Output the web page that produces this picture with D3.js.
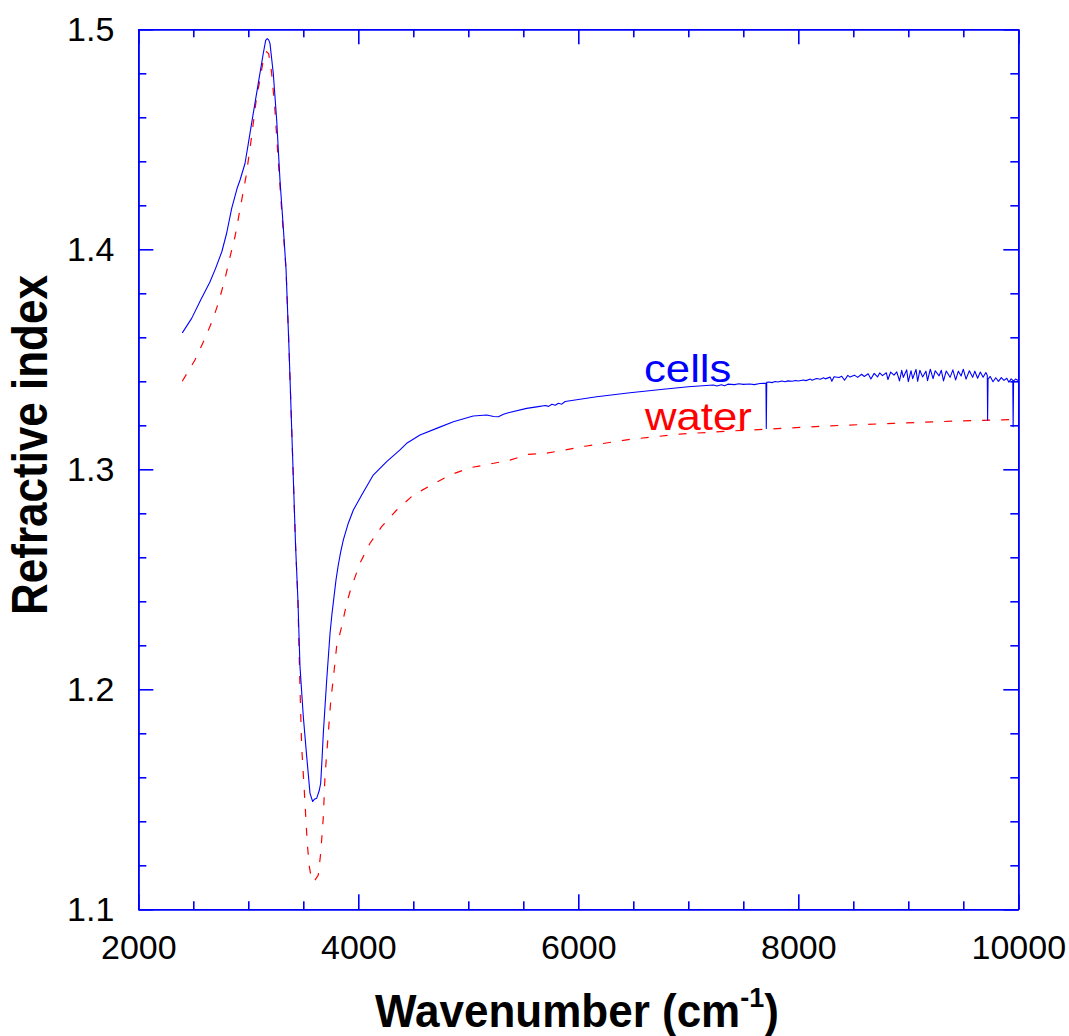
<!DOCTYPE html>
<html>
<head>
<meta charset="utf-8">
<script src="https://cdn.jsdelivr.net/npm/d3@7"></script>
<style>
  html, body { margin: 0; padding: 0; background: #fff; }
  svg { display: block; }
  text { font-family: "Liberation Sans", Arial, Helvetica, sans-serif; }
</style>
</head>
<body>
<svg id="chart" width="1069" height="1036"></svg>
<script>
// ---- Data ----
const xMajorTicks = [2000, 4000, 6000, 8000, 10000];
const xMinorTicks = [2500, 3000, 3500, 4500, 5000, 5500, 6500, 7000, 7500, 8500, 9000, 9500];
const yMajorTicks = [1.1, 1.2, 1.3, 1.4, 1.5];
const yTickLabels = ["1.1", "1.2", "1.3", "1.4", "1.5"];
const yMinorTicks = [1.12, 1.14, 1.16, 1.18, 1.22, 1.24, 1.26, 1.28, 1.32, 1.34, 1.36, 1.38, 1.42, 1.44, 1.46, 1.48];

const seriesNames = ["cells", "water"];

// cells: [wavenumber, refractive index]
const cells = [
  [2400,1.3620],[2485,1.3686],[2567,1.3770],[2650,1.3850],[2700,1.3910],[2760,1.3990],[2803,1.4073],
  [2849,1.4186],[2900,1.4280],[2925,1.4315],[2970,1.4390],[3000,1.4480],[3045,1.4618],[3091,1.4755],
  [3136,1.4890],[3158,1.4950],[3172,1.4958],[3185,1.4952],[3197,1.4936],[3227,1.4800],[3258,1.4588],
  [3288,1.4315],[3318,1.4100],[3343,1.3910],[3370,1.3550],[3400,1.3100],[3430,1.2650],[3451,1.2407],
  [3470,1.2103],[3500,1.1876],[3531,1.1694],[3561,1.1527],[3585,1.1490],[3600,1.1500],[3622,1.1505],
  [3645,1.1540],[3658,1.1573],[3670,1.1680],[3682,1.1800],[3712,1.2037],[3743,1.2255],[3760,1.2340],
  [3779,1.2420],[3798,1.2500],[3818,1.2565],[3840,1.2625],[3864,1.2679],[3909,1.2755],[3955,1.2815],
  [4031,1.2883],[4136,1.2974],[4258,1.3035],[4379,1.3088],[4440,1.3118],[4561,1.3156],[4712,1.3186],
  [4864,1.3216],[5045,1.3242],[5167,1.3247],[5230,1.3240],[5273,1.3239],[5320,1.3250],[5364,1.3257],
  [5531,1.3277],[5636,1.3285],[5700,1.3290],[5730,1.3286],[5760,1.3296],[5790,1.3291],[5820,1.3300],
  [5850,1.3296],[5880,1.3308],[6167,1.3330],[6470,1.3348],[6773,1.3364],[7000,1.3375],[7227,1.3383],
  [7260,1.3379],[7300,1.3384],[7330,1.3380],[7360,1.3387],[7420,1.3385],[7460,1.3389],[7500,1.3386],
  [7560,1.3388],[7600,1.3385],[7650,1.3390],[7706,1.3391],[7709,1.3186],[7713,1.3395],[7735,1.3397],
  [7760,1.3394],[7790,1.3399],[7815,1.3397],[7850,1.3401],[7880,1.3398],[7905,1.3402],[7945,1.3400],
  [7975,1.3404],[8000,1.3401],[8045,1.3406],[8070,1.3403],[8110,1.3410],[8125,1.3405],[8165,1.3413],
  [8200,1.3409],[8230,1.3416],[8245,1.3411],[8290,1.3419],[8305,1.3400],[8325,1.3421],[8370,1.3417],
  [8395,1.3423],[8420,1.3405],[8450,1.3427],[8470,1.3419],[8510,1.3428],[8540,1.3418],[8575,1.3432],
  [8600,1.3422],[8635,1.3434],[8660,1.3410],[8690,1.3436],[8720,1.3420],[8740,1.3438],[8765,1.3426],
  [8800,1.3439],[8815,1.3408],[8840,1.3442],[8870,1.3428],[8895,1.3443],[8920,1.3402],[8940,1.3450],
  [8955,1.3418],[8985,1.3452],[9000,1.3398],[9025,1.3448],[9040,1.3412],[9070,1.3454],[9085,1.3400],
  [9105,1.3450],[9130,1.3420],[9160,1.3446],[9175,1.3403],[9200,1.3455],[9225,1.3412],[9245,1.3448],
  [9280,1.3425],[9300,1.3450],[9320,1.3402],[9345,1.3447],[9380,1.3418],[9405,1.3452],[9430,1.3406],
  [9455,1.3446],[9480,1.3424],[9500,1.3455],[9525,1.3410],[9555,1.3448],[9585,1.3418],[9605,1.3446],
  [9630,1.3414],[9655,1.3442],[9680,1.3418],[9705,1.3440],[9718,1.3428],[9721,1.3224],[9725,1.3410],
  [9745,1.3422],[9770,1.3398],[9795,1.3416],[9820,1.3400],[9845,1.3417],[9870,1.3404],[9895,1.3414],
  [9915,1.3396],[9935,1.3411],[9950,1.3404],[9953,1.3194],[9957,1.3402],[9975,1.3410],[10000,1.3404]
];

// water: [wavenumber, refractive index]
const water = [
  [2400,1.3400],[2515,1.3497],[2606,1.3595],[2682,1.3686],[2736,1.3770],[2790,1.3870],[2834,1.3966],
  [2879,1.4057],[2940,1.4224],[2979,1.4330],[3030,1.4512],[3076,1.4694],[3106,1.4770],[3136,1.4860],
  [3165,1.4898],[3185,1.4890],[3210,1.4810],[3240,1.4650],[3270,1.4420],[3300,1.4200],[3343,1.3910],
  [3370,1.3550],[3400,1.3100],[3430,1.2650],[3451,1.2407],[3457,1.2270],[3470,1.2005],[3485,1.1740],
  [3509,1.1540],[3536,1.1300],[3555,1.1194],[3575,1.1135],[3597,1.1126],[3636,1.1156],[3658,1.1254],
  [3682,1.1420],[3697,1.1603],[3727,1.1800],[3750,1.1950],[3773,1.2050],[3803,1.2194],[3849,1.2285],
  [3894,1.2390],[3931,1.2455],[4015,1.2573],[4106,1.2664],[4212,1.2739],[4349,1.2815],[4500,1.2883],
  [4667,1.2929],[4834,1.2974],[5015,1.3007],[5197,1.3024],[5379,1.3042],[5545,1.3068],[5712,1.3073],
  [6076,1.3106],[6470,1.3136],[6924,1.3160],[7379,1.3174],[7712,1.3182],[8258,1.3197],[8864,1.3209],
  [9470,1.3220],[10000,1.3227]
];

// ---- Layout ----
const svg = d3.select("#chart");
const L = 138.3, R = 1018.3, T = 29.3, B = 909.3;
const x = d3.scaleLinear().domain([2000, 10000]).range([L, R]);
const y = d3.scaleLinear().domain([1.1, 1.5]).range([B, T]);
const axisColor = "#0000ff";
const tickFont = 34;

function styleAxis(g) {
  g.selectAll("path.domain").attr("stroke", axisColor).attr("stroke-width", 1.6);
  g.selectAll(".tick line").attr("stroke", axisColor).attr("stroke-width", 1.6);
  g.selectAll(".tick text")
    .attr("fill", "#000")
    .style("font-family", '"Liberation Sans", Arial, Helvetica, sans-serif')
    .style("font-size", tickFont + "px");
}

// bottom
svg.append("g").attr("transform", `translate(0,${B})`)
  .call(d3.axisBottom(x).tickValues(xMinorTicks).tickSizeInner(-8).tickSizeOuter(0).tickFormat(""))
  .call(styleAxis);
svg.append("g").attr("transform", `translate(0,${B})`)
  .call(d3.axisBottom(x).tickValues(xMajorTicks).tickSizeInner(-15).tickSizeOuter(0).tickPadding(26).tickFormat(d3.format("d")))
  .call(styleAxis);
// top
svg.append("g").attr("transform", `translate(0,${T})`)
  .call(d3.axisTop(x).tickValues(xMinorTicks).tickSizeInner(-8).tickSizeOuter(0).tickFormat(""))
  .call(styleAxis);
svg.append("g").attr("transform", `translate(0,${T})`)
  .call(d3.axisTop(x).tickValues(xMajorTicks).tickSizeInner(-15).tickSizeOuter(0).tickFormat(""))
  .call(styleAxis);
// left
svg.append("g").attr("transform", `translate(${L},0)`)
  .call(d3.axisLeft(y).tickValues(yMinorTicks).tickSizeInner(-8).tickSizeOuter(0).tickFormat(""))
  .call(styleAxis);
svg.append("g").attr("transform", `translate(${L},0)`)
  .call(d3.axisLeft(y).tickValues(yMajorTicks).tickSizeInner(-15).tickSizeOuter(0).tickPadding(24)
        .tickFormat((d, i) => yTickLabels[i]))
  .call(styleAxis);
// right
svg.append("g").attr("transform", `translate(${R},0)`)
  .call(d3.axisRight(y).tickValues(yMinorTicks).tickSizeInner(-8).tickSizeOuter(0).tickFormat(""))
  .call(styleAxis);
svg.append("g").attr("transform", `translate(${R},0)`)
  .call(d3.axisRight(y).tickValues(yMajorTicks).tickSizeInner(-15).tickSizeOuter(0).tickFormat(""))
  .call(styleAxis);

// ---- Lines ----
const line = d3.line().x(d => x(d[0])).y(d => y(d[1]));

svg.append("path").datum(water)
  .attr("d", line).attr("fill", "none")
  .attr("stroke", "#ff0000").attr("stroke-width", 1.2)
  .attr("stroke-dasharray", "8,11");

svg.append("path").datum(cells)
  .attr("d", line).attr("fill", "none")
  .attr("stroke", "#0000ff").attr("stroke-width", 1.1)
  .attr("stroke-linejoin", "round");

// ---- Series labels ----
svg.append("text").attr("transform", "translate(644,381.5) scale(1.15,1)")
  .attr("fill", "#0000ff").style("font-size", "38px").text(seriesNames[0]);
svg.append("text").attr("transform", "translate(645,430) scale(1.15,1)")
  .attr("fill", "#ff0000").style("font-size", "38px").text(seriesNames[1]);

// ---- Axis titles ----
svg.append("text")
  .attr("transform", "translate(47,445) rotate(-90) scale(1,1.15)")
  .attr("text-anchor", "middle")
  .style("font-size", "44px").style("font-weight", "bold")
  .text("Refractive index");

const xt = svg.append("text")
  .attr("transform", "translate(577,1027) scale(1,1.05)")
  .attr("text-anchor", "middle")
  .style("font-size", "44px").style("font-weight", "bold");
xt.append("tspan").text("Wavenumber (cm");
xt.append("tspan").attr("dy", -19).style("font-size", "27px").text("-1");
xt.append("tspan").attr("dy", 19).text(")");
</script>
</body>
</html>
